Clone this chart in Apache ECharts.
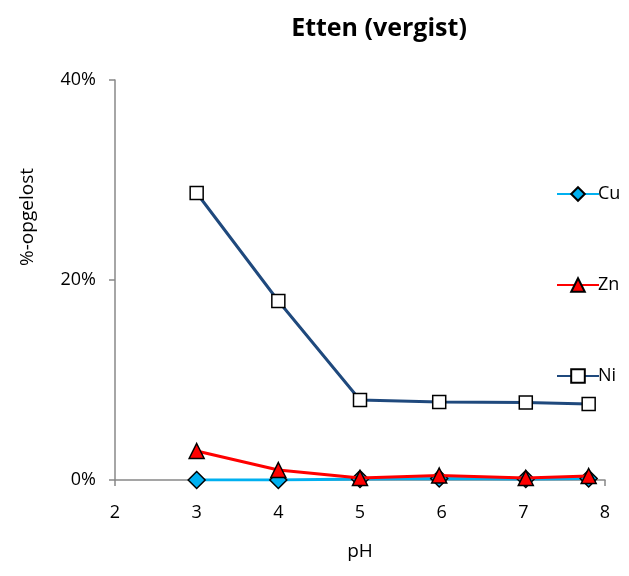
<!DOCTYPE html>
<html>
<head>
<meta charset="utf-8">
<script src="https://cdn.jsdelivr.net/npm/echarts@6/dist/echarts.min.js"></script>
<style>
  html, body { margin: 0; padding: 0; background: #fff; }
  #chart { width: 629px; height: 576px; }
</style>
</head>
<body>
<div id="chart"></div>
<script>
// pH of each sample
const phValues = [3, 4, 5, 5.97, 7.03, 7.8];
// Dissolved fraction (%) per metal
const cuValues = [0, 0, 0.1, 0.15, 0.1, 0.15];
const znValues = [2.9, 1.0, 0.2, 0.45, 0.2, 0.4];
const niValues = [28.7, 17.9, 8.0, 7.8, 7.75, 7.6];
const seriesNames = ['Cu', 'Zn', 'Ni'];

const FONT = '"Open Sans", Lato, sans-serif';

function pairs(ys) {
  return phValues.map((x, i) => [x, ys[i]]);
}

const chart = echarts.init(document.getElementById('chart'), null, { renderer: 'canvas' });

chart.setOption({
  animation: false,
  backgroundColor: '#fff',
  title: {
    text: 'Etten (vergist)',
    left: 374,
    top: 11,
    textAlign: 'center',
    textStyle: { fontFamily: FONT, fontSize: 25, fontWeight: 'bold', color: '#000' }
  },
  grid: { left: 115, right: 24, top: 80, bottom: 96, containLabel: false },
  legend: {
    orient: 'vertical',
    left: 551,
    top: 180,
    itemWidth: 42,
    itemHeight: 17,
    itemGap: 73,
    textStyle: { fontFamily: FONT, fontSize: 18, color: '#000', padding: [0, 0, 0, -6] },
    data: seriesNames
  },
  xAxis: {
    type: 'value',
    min: 2,
    max: 8,
    interval: 1,
    name: 'pH',
    nameLocation: 'middle',
    nameGap: 62,
    nameTextStyle: { fontFamily: FONT, fontSize: 19, color: '#000' },
    axisLine: { onZero: false, lineStyle: { color: '#888', width: 1.5 } },
    axisTick: { show: true, length: 6, customValues: [2, 8], lineStyle: { color: '#888', width: 1.5 } },
    axisLabel: { fontFamily: FONT, fontSize: 18, color: '#000', margin: 24 },
    splitLine: { show: false }
  },
  yAxis: {
    type: 'value',
    min: 0,
    max: 40,
    interval: 20,
    axisLine: { show: true, lineStyle: { color: '#888', width: 1.5 } },
    axisTick: { show: true, length: 6, lineStyle: { color: '#888', width: 1.5 } },
    axisLabel: { fontFamily: FONT, fontSize: 18, color: '#000', margin: 19, formatter: '{value}%' },
    splitLine: { show: false }
  },
  graphic: [{
    type: 'text',
    x: 28,
    y: 217,
    rotation: Math.PI / 2,
    style: {
      text: '%-opgelost',
      fontFamily: FONT,
      fontSize: 19,
      fill: '#000',
      textAlign: 'center',
      textVerticalAlign: 'middle'
    }
  }],
  series: [
    {
      name: 'Cu',
      type: 'line',
      data: pairs(cuValues),
      symbol: 'diamond',
      symbolSize: 17,
      lineStyle: { color: '#00B0F0', width: 3 },
      itemStyle: { color: '#00B0F0', borderColor: '#000', borderWidth: 1.5 },
      z: 2
    },
    {
      name: 'Zn',
      type: 'line',
      data: pairs(znValues),
      symbol: 'triangle',
      symbolSize: 15,
      lineStyle: { color: '#FF0000', width: 3 },
      itemStyle: { color: '#FF0000', borderColor: '#000', borderWidth: 1.5 },
      z: 3
    },
    {
      name: 'Ni',
      type: 'line',
      data: pairs(niValues),
      symbol: 'rect',
      symbolSize: 13,
      lineStyle: { color: '#1F497D', width: 3 },
      itemStyle: { color: '#FFFFFF', borderColor: '#000', borderWidth: 1.5 },
      z: 1
    }
  ]
});
</script>
</body>
</html>
